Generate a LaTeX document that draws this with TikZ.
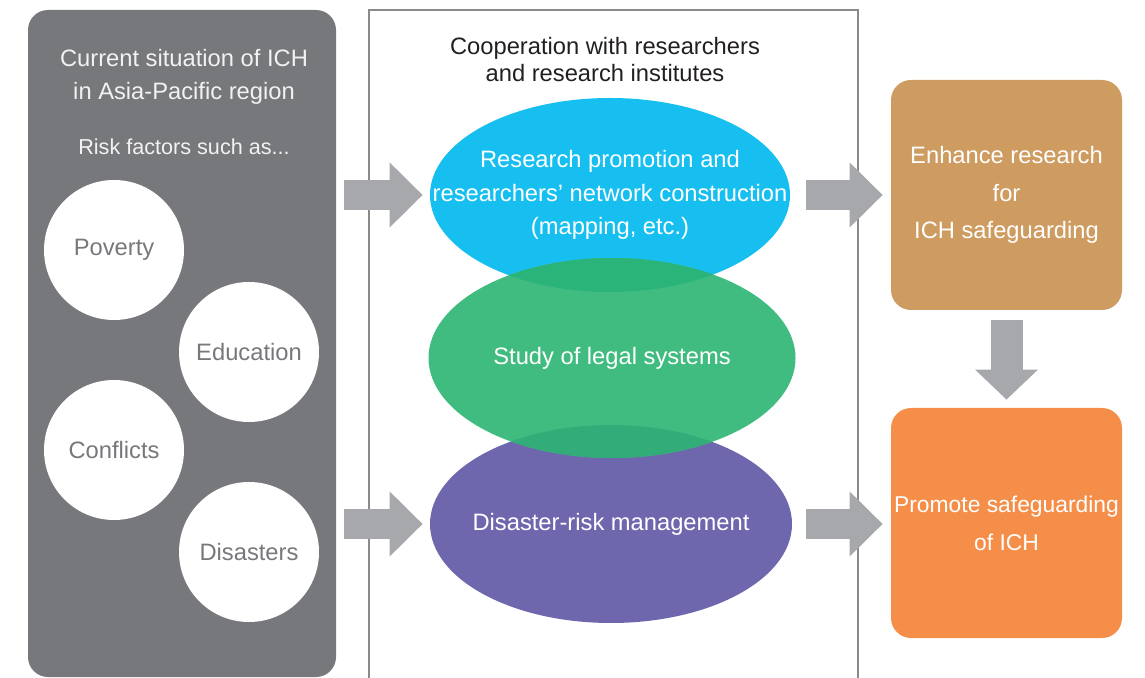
\documentclass[tikz,border=0pt]{standalone}
\usepackage{fontspec}
\setmainfont{Liberation Sans}
\usetikzlibrary{shapes.geometric,arrows.meta,positioning}

\definecolor{panelgray}{HTML}{77787B}
\definecolor{framegray}{HTML}{8A8A8A}
\definecolor{arrowgray}{HTML}{A7A8AB}
\definecolor{titlewhite}{HTML}{F2F2F2}
\definecolor{headblack}{HTML}{231F20}
\definecolor{resblue}{HTML}{17BFF0}
\definecolor{legalgreen}{HTML}{41BC80}
\definecolor{riskpurple}{HTML}{6E67AE}
\definecolor{mixgreenblue}{HTML}{2AB47A}
\definecolor{mixgreenpurple}{HTML}{32AC78}
\definecolor{enhbrown}{HTML}{CE9B60}
\definecolor{promorange}{HTML}{F58E48}

\tikzset{
  factor/.style={circle, fill=white, minimum size=2.8cm, inner sep=0pt, text=panelgray},
  topic/.style={ellipse, inner sep=0pt},
  topictext/.style={text=white, align=center},
  result/.style={rectangle, rounded corners=0.4cm, minimum width=4.62cm, minimum height=4.6cm,
    inner sep=0pt, text=white, align=center, font=\fontsize{13.5}{21.5}\selectfont},
  blockarrow/.style={draw=arrowgray, line width=0.6cm, -{Triangle[width=1.26cm,length=0.66cm]}},
  downarrow/.style={draw=arrowgray, line width=0.64cm, -{Triangle[width=1.22cm,length=0.6cm]}},
}

\begin{document}
\begin{tikzpicture}[font=\fontsize{13.5}{19}\selectfont]
        \useasboundingbox (0,0) rectangle (22.9,13.54);

        % Middle frame
        \draw[framegray, line width=0.04cm] (7.38,-0.5) -- (7.38,13.34) -- (17.16,13.34) -- (17.16,-0.5);
        \node[text=headblack, align=center, font=\fontsize{13.5}{15.5}\selectfont] (coop) at (12.1,12.35)
            {Cooperation with researchers\\and research institutes};

        % Left panel
        \node[fill=panelgray, rounded corners=0.4cm, minimum width=6.16cm, minimum height=13.34cm,
            inner sep=0pt] (situation) at (3.64,6.67) {};
        \node[text=titlewhite, align=center] (title) at (3.68,12.0)
            {Current situation of ICH\\in Asia-Pacific region};
        \node[text=titlewhite, font=\fontsize{12.3}{15}\selectfont] (risk) at (3.68,10.6) {Risk factors such as...};

        % Risk factors
        \node[factor] (poverty) at (2.28,8.54) {Poverty};
        \node[factor] (education) at (4.98,6.5) {Education};
        \node[factor] (conflicts) at (2.28,4.54) {Conflicts};
        \node[factor] (disasters) at (4.98,2.5) {Disasters};

        % Research topics
        \node[topic, fill=resblue, minimum width=7.2cm, minimum height=3.88cm,
            label={[topictext]center:{Research promotion and\\researchers’ network construction\\(mapping, etc.)}}]
            (research) at (12.2,9.64) {};
        \node[topic, fill=riskpurple, minimum width=7.24cm, minimum height=3.96cm,
            label={[topictext]center:{Disaster-risk management}}] (disaster) at (12.22,3.06) {};
        \node[topic, fill=legalgreen, minimum width=7.34cm, minimum height=4cm,
            label={[topictext]center:{Study of legal systems}}] (legal) at (12.24,6.38) {};

        % Overlaps
        \begin{scope}
            \clip (research.center) ellipse (3.6cm and 1.94cm);
            \fill[mixgreenblue] (legal.center) ellipse (3.67cm and 2cm);
        \end{scope}
        \begin{scope}
            \clip (disaster.center) ellipse (3.62cm and 1.98cm);
            \fill[mixgreenpurple] (legal.center) ellipse (3.67cm and 2cm);
        \end{scope}

        % Outcomes
        \node[result, fill=enhbrown] (enhance) at (20.13,9.64) {Enhance research\\for\\ICH safeguarding};
        \node[result, fill=promorange, font=\fontsize{13}{21.5}\selectfont] (promote) at (20.13,3.08)
            {Promote safeguarding\\of ICH};

        % Arrows
        \draw[blockarrow, shorten <=0.16cm, shorten >=0.14cm] (situation.east |- research.west) -- (research.west);
        \draw[blockarrow, shorten <=0.16cm, shorten >=0.14cm] (situation.east |- disaster.west) -- (disaster.west);
        \draw[blockarrow, shorten <=0.32cm, shorten >=0.16cm] (research.east) -- (enhance.west |- research.east);
        \draw[blockarrow, shorten <=0.28cm, shorten >=0.16cm] (disaster.east) -- (promote.west |- disaster.east);
        \draw[downarrow, shorten <=0.2cm, shorten >=0.16cm] (enhance) -- (promote);

     \end{tikzpicture}
\end{document}
